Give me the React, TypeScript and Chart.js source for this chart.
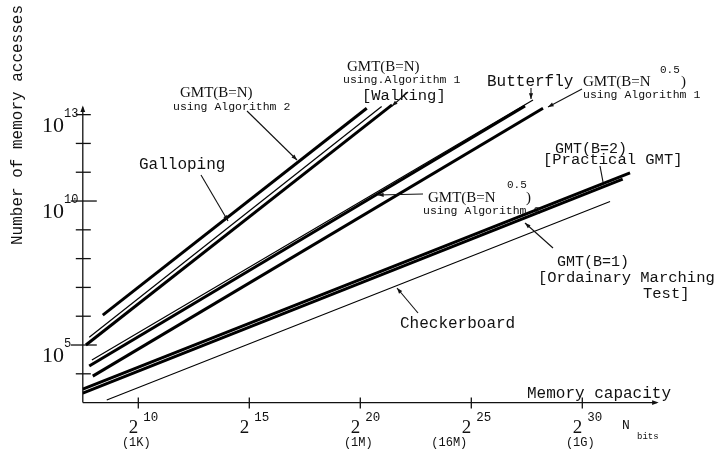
import React, { useEffect, useRef } from "react";
import { Chart, registerables } from "chart.js";

Chart.register(...registerables);

// x values: log2(N bits), y values: log10(number of memory accesses)
const xTickExponents = [10, 15, 20, 25, 30];
const xTickSizes = ["(1K)", "", "(1M)", "(16M)", "(1G)"];
const yTickDecades = [4, 5, 6, 7, 8, 9, 10, 11, 12, 13];
const yLabelledDecades = [5, 10, 13];

const gmtNAlg2 = [{ x: 8.4, y: 6.04 }, { x: 20.29, y: 13.22 }];
const galloping = [{ x: 7.79, y: 5.27 }, { x: 20.96, y: 13.28 }];
const walking = [{ x: 7.64, y: 5.0 }, { x: 21.43, y: 13.34 }];
const butterfly = [{ x: 7.91, y: 4.48 }, { x: 27.78, y: 13.51 }];
const gmtSqrtAlg2 = [{ x: 7.79, y: 4.27 }, { x: 27.42, y: 13.3 }];
const gmtSqrtAlg1 = [{ x: 7.95, y: 3.92 }, { x: 28.23, y: 13.22 }];
const gmtB2 = [{ x: 7.5, y: 3.47 }, { x: 32.15, y: 10.98 }];
const gmtB1 = [{ x: 7.5, y: 3.33 }, { x: 31.82, y: 10.76 }];
const checkerboard = [{ x: 8.58, y: 3.09 }, { x: 31.25, y: 9.98 }];

const X_MIN = 7.5;
const X_MAX = 33.5;
const Y_MIN = 3;
const Y_MAX = 13.8;

const MONO = "'Liberation Mono', 'DejaVu Sans Mono', monospace";
const SERIF = "'Liberation Serif', 'DejaVu Serif', serif";
const INK = "#111";

function arrowHead(ctx: CanvasRenderingContext2D, x1: number, y1: number, x2: number, y2: number, size = 6) {
  const a = Math.atan2(y2 - y1, x2 - x1);
  ctx.beginPath();
  ctx.moveTo(x2, y2);
  ctx.lineTo(x2 - size * Math.cos(a - 0.35), y2 - size * Math.sin(a - 0.35));
  ctx.lineTo(x2 - size * Math.cos(a + 0.35), y2 - size * Math.sin(a + 0.35));
  ctx.closePath();
  ctx.fill();
}

function leader(ctx: CanvasRenderingContext2D, x1: number, y1: number, x2: number, y2: number, head = true) {
  ctx.beginPath();
  ctx.moveTo(x1, y1);
  ctx.lineTo(x2, y2);
  ctx.stroke();
  if (head) arrowHead(ctx, x1, y1, x2, y2, 6);
}

function text(ctx: CanvasRenderingContext2D, s: string, x: number, y: number, font: string, align: CanvasTextAlign = "left") {
  ctx.font = font;
  ctx.textAlign = align;
  ctx.textBaseline = "alphabetic";
  ctx.fillText(s, x, y);
}

const axesPlugin = {
  id: "paperAxes",
  beforeDatasetsDraw(chart: any) {
    const ctx: CanvasRenderingContext2D = chart.ctx;
    const xs = chart.scales.x;
    const ys = chart.scales.y;
    const x0 = xs.getPixelForValue(X_MIN);
    const y0 = ys.getPixelForValue(Y_MIN);
    const xEnd = xs.getPixelForValue(33.35);
    const yTop = ys.getPixelForValue(13.25);
    ctx.save();
    ctx.strokeStyle = INK;
    ctx.fillStyle = INK;
    ctx.lineWidth = 1.3;
    // axes
    ctx.beginPath();
    ctx.moveTo(x0, y0);
    ctx.lineTo(xEnd, y0);
    ctx.moveTo(x0, y0);
    ctx.lineTo(x0, yTop);
    ctx.stroke();
    arrowHead(ctx, x0, y0, xEnd + 2, y0, 7);
    arrowHead(ctx, x0, y0, x0, yTop - 2, 7);
    // y ticks
    yTickDecades.forEach((d) => {
      const y = ys.getPixelForValue(d);
      const major = d === 5 || d === 10;
      ctx.beginPath();
      ctx.moveTo(x0 - (major ? 12 : 7), y);
      ctx.lineTo(x0 + (major ? 14 : 8), y);
      ctx.stroke();
    });
    // x ticks
    xTickExponents.forEach((e) => {
      const x = xs.getPixelForValue(e);
      ctx.beginPath();
      ctx.moveTo(x, y0 - 5);
      ctx.lineTo(x, y0 + 6);
      ctx.stroke();
    });
    // tick labels
    ctx.fillStyle = INK;
    yLabelledDecades.forEach((d) => {
      const y = ys.getPixelForValue(d);
      text(ctx, "10", 64, y + 17, `22px ${SERIF}`, "right");
      text(ctx, String(d), 64, y + 2, `12px ${MONO}`, "left");
    });
    xTickExponents.forEach((e, i) => {
      const x = xs.getPixelForValue(e);
      text(ctx, "2", x, y0 + 30, `19px ${SERIF}`, "right");
      text(ctx, String(e), x + 5, y0 + 18, `12.5px ${MONO}`, "left");
      if (xTickSizes[i]) text(ctx, xTickSizes[i], x - (xTickSizes[i] === "(16M)" ? 22 : 2), y0 + 43, `12px ${MONO}`, "center");
    });
    text(ctx, "Memory capacity", 527, y0 - 5, `16px ${MONO}`);
    text(ctx, "N", 622, y0 + 26, `13px ${MONO}`);
    text(ctx, "bits", 637, y0 + 36, `9px ${MONO}`);
    // y title
    ctx.save();
    ctx.translate(22, 125);
    ctx.rotate(-Math.PI / 2);
    text(ctx, "Number of memory accesses", 0, 0, `16px ${MONO}`, "center");
    ctx.restore();
    ctx.restore();
  },
  afterDatasetsDraw(chart: any) {
    const ctx: CanvasRenderingContext2D = chart.ctx;
    ctx.save();
    ctx.fillStyle = INK;
    ctx.strokeStyle = INK;
    ctx.lineWidth = 1.1;
    const big = `16px ${MONO}`;
    const small = `11.5px ${MONO}`;
    const serif = `15px ${SERIF}`;

    text(ctx, "GMT(B=N)", 180, 97, serif);
    text(ctx, "using Algorithm 2", 173, 110, small);
    leader(ctx, 247, 111, 297, 160);

    text(ctx, "Galloping", 139, 169, big);
    leader(ctx, 201, 175, 228, 221);

    text(ctx, "GMT(B=N)", 347, 71, serif);
    text(ctx, "using.Algorithm 1", 343, 83, small);
    text(ctx, "[Walking]", 362, 100, `15.5px ${MONO}`);
    leader(ctx, 408, 92, 392, 106);

    text(ctx, "Butterfly", 487, 86, big);
    leader(ctx, 531, 88, 531, 99);

    text(ctx, "GMT(B=N", 583, 86, serif);
    text(ctx, "0.5", 660, 73, `11px ${MONO}`);
    text(ctx, ")", 681, 86, serif);
    text(ctx, "using Algorithm 1", 583, 98, small);
    leader(ctx, 582, 89, 548, 107);

    text(ctx, "GMT(B=2)", 555, 153, `15px ${MONO}`);
    text(ctx, "[Practical GMT]", 543, 164, `15.5px ${MONO}`);
    leader(ctx, 600, 166, 603, 182, false);

    text(ctx, "GMT(B=N", 428, 202, serif);
    text(ctx, "0.5", 507, 188, `11px ${MONO}`);
    text(ctx, ")", 526, 202, serif);
    text(ctx, "using Algorithm 2", 423, 214, small);
    leader(ctx, 423, 194, 378, 195);

    text(ctx, "GMT(B=1)", 557, 266, `15px ${MONO}`);
    text(ctx, "[Ordainary Marching", 538, 282, `15.5px ${MONO}`);
    text(ctx, "Test]", 643, 298, `15.5px ${MONO}`);
    leader(ctx, 553, 248, 525, 223);

    text(ctx, "Checkerboard", 400, 328, big);
    leader(ctx, 418, 313, 397, 288);
    ctx.restore();
  },
};

function ds(label: string, data: { x: number; y: number }[], width: number) {
  return {
    label,
    data,
    borderColor: "#000",
    backgroundColor: "#000",
    borderWidth: width,
    pointRadius: 0,
    fill: false,
    tension: 0,
    borderCapStyle: "butt" as const,
  };
}

export default function App() {
  const ref = useRef<HTMLCanvasElement | null>(null);
  useEffect(() => {
    if (!ref.current) return;
    const chart = new Chart(ref.current, {
      type: "line",
      data: {
        datasets: [
          ds("GMT(B=N) using Algorithm 2", gmtNAlg2, 3),
          ds("Galloping", galloping, 1.2),
          ds("GMT(B=N) using Algorithm 1 [Walking]", walking, 3),
          ds("Butterfly", butterfly, 1.2),
          ds("GMT(B=N^0.5) using Algorithm 2", gmtSqrtAlg2, 3),
          ds("GMT(B=N^0.5) using Algorithm 1", gmtSqrtAlg1, 3),
          ds("GMT(B=2) [Practical GMT]", gmtB2, 3),
          ds("GMT(B=1) [Ordainary Marching Test]", gmtB1, 3),
          ds("Checkerboard", checkerboard, 1.1),
        ],
      },
      options: {
        animation: false,
        responsive: false,
        maintainAspectRatio: false,
        devicePixelRatio: 1,
        layout: { padding: { left: 82.8, right: 62, top: 91.6, bottom: 49.4 } },
        plugins: { legend: { display: false }, tooltip: { enabled: false }, title: { display: false } },
        scales: {
          x: { type: "linear", min: X_MIN, max: X_MAX, display: false },
          y: { type: "linear", min: Y_MIN, max: Y_MAX, display: false },
        },
        elements: { line: { clip: false } as any },
      },
      plugins: [axesPlugin],
    });
    return () => chart.destroy();
  }, []);
  return (
    <div style={{ position: "absolute", left: 0, top: 0, width: 722, height: 452, background: "#fff" }}>
      <canvas ref={ref} width={722} height={452} style={{ display: "block" }} />
    </div>
  );
}
